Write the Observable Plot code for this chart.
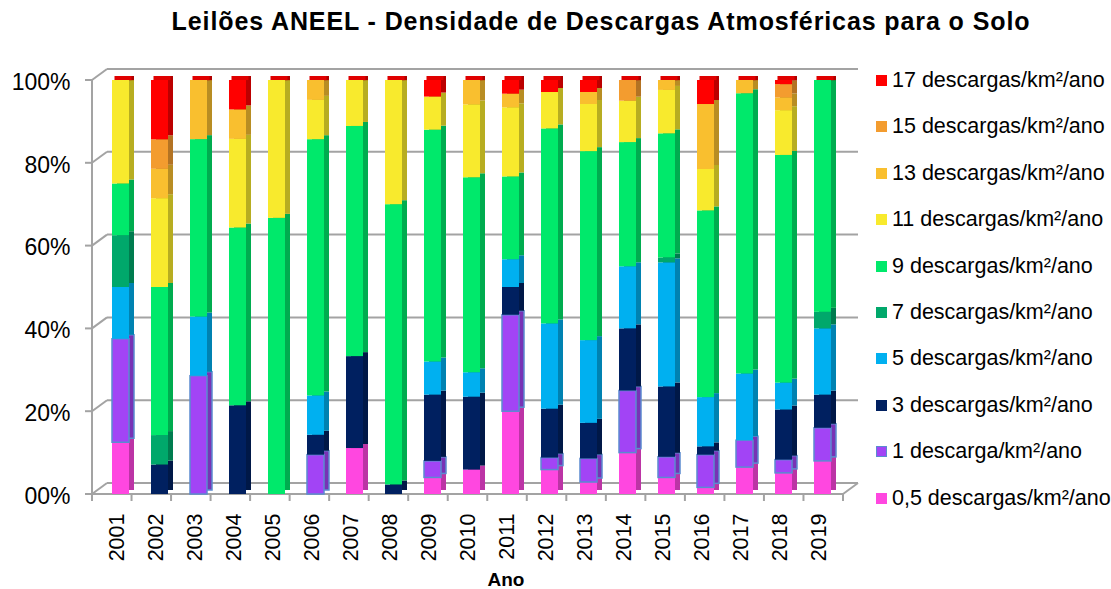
<!DOCTYPE html>
<html><head><meta charset="utf-8">
<script src="https://cdn.jsdelivr.net/npm/d3@7"></script>
<script src="https://cdn.jsdelivr.net/npm/@observablehq/plot@0.6"></script>
<style>
body{margin:0;background:#fff;font-family:"Liberation Sans",Arial,sans-serif;color:#000;}
#wrap{position:relative;width:1111px;height:589px;overflow:hidden;}
#title{position:absolute;top:7px;left:101px;width:1000px;text-align:center;font-weight:bold;font-size:25px;letter-spacing:0.9px;white-space:nowrap;}
#chart{position:absolute;top:45px;left:0;}
#legend{position:absolute;left:876px;top:0;}
.li{position:absolute;left:0;white-space:nowrap;font-size:21.5px;line-height:22px;height:22px;}
.sw{display:inline-block;width:11px;height:11px;margin-right:5px;vertical-align:1px;box-sizing:border-box;}
#xlabel{position:absolute;top:569px;left:466px;width:80px;text-align:center;font-weight:bold;font-size:19px;}
</style></head><body>
<div id="wrap">
<div id="title">Leilões ANEEL - Densidade de Descargas Atmosféricas para o Solo</div>
<div id="chart"></div>
<div id="legend"></div>
<div id="xlabel">Ano</div>
</div>
<script>
const years = ["2001","2002","2003","2004","2005","2006","2007","2008","2009","2010","2011","2012","2013","2014","2015","2016","2017","2018","2019"];
const seriesNames = ["0,5 descargas/km²/ano","1 descarga/km²/ano","3 descargas/km²/ano","5 descargas/km²/ano","7 descargas/km²/ano","9 descargas/km²/ano","11 descargas/km²/ano","13 descargas/km²/ano","15 descargas/km²/ano","17 descargas/km²/ano"];
const seriesColors = ["#FF47E0","#A244F5","#002060","#00B0F0","#00A86B","#00E96B","#F8EA2D","#F9BF2F","#F39C2F","#FF0000"];
const yTicks = [0,0.2,0.4,0.6,0.8,1];

// percentage values per year (2001..2019)
const v05 = [12.5,0,0,0,0,0,11.1,0,4,5.9,20,5.9,2.9,10,4,1.6,6.5,5.1,8];
const v1  = [25,0,28.6,0,0,9.5,0,0,4,0,23.3,2.9,5.7,15,5,7.9,6.5,3.2,8];
const v3  = [0,7.1,0,21.4,0,4.8,22.2,2.3,16,17.6,6.7,11.8,8.6,15,17,2,0,12.1,8];
const v5  = [12.5,0,14.3,0,0,9.5,0,0,8,5.9,6.7,20.6,20,15,30,11.9,16.1,6.5,16];
const v7  = [12.5,7.1,0,0,0,0,0,0,0,0,0,0,0,0,1.2,0,0,0,4];
const v9  = [12.5,35.7,42.9,42.9,66.7,61.9,55.6,67.7,56,47.1,20,47.1,45.7,30,30,45.1,67.7,55,56];
const v11 = [25,21.4,0,21.4,33.3,9.5,11.1,30,8,17.6,16.7,8.8,11.4,10,10.5,10,0,10.8,0];
const v13 = [0,7.1,14.3,7.1,0,4.8,0,0,0,5.9,3.3,0,2.9,0,2.4,15.7,3.2,3.1,0];
const v15 = [0,7.1,0,0,0,0,0,0,0,0,0,0,0,5,0,0,0,3.2,0];
const v17 = [0,14.3,0,7.1,0,0,0,0,4,0,3.3,2.9,2.9,0,0,5.8,0,1,0];
const seriesValues = [v05,v1,v3,v5,v7,v9,v11,v13,v15,v17];

const darkColors = seriesColors.map(c => d3.color(c).darker(0.85).formatHex());
const rows = [];
years.forEach((yr, i) => seriesValues.forEach((arr, k) => rows.push({year: yr, k, series: seriesNames[k], value: arr[i]})));

const FRONT_DX = 4, DEPTH_DX = 5, DEPTH_DY = -4;
const outline = "#5B8BD0";

function decor(index, scales, values, dim) {
  const y = scales.y;
  const L = dim.marginLeft, R = dim.width - dim.marginRight;
  const DX = 15, DY = -11;
  const g = d3.create("svg:g").attr("stroke", "#A3A3A3").attr("stroke-width", 2).attr("fill", "none");
  for (const t of yTicks) {
    const yy = y(t);
    g.append("line").attr("x1", L - 7).attr("x2", L).attr("y1", yy).attr("y2", yy);
    g.append("line").attr("x1", L).attr("y1", yy).attr("x2", L + DX).attr("y2", yy + DY);
    g.append("line").attr("x1", L + DX).attr("y1", yy + DY).attr("x2", R + DX).attr("y2", yy + DY);
  }
  g.append("line").attr("x1", L).attr("x2", L).attr("y1", y(1)).attr("y2", y(0) + 7);
  g.append("line").attr("x1", L).attr("x2", R).attr("y1", y(0)).attr("y2", y(0));
  g.append("line").attr("x1", R).attr("y1", y(0)).attr("x2", R + DX).attr("y2", y(0) + DY);
  const step = (R - L) / years.length;
  for (let i = 0; i <= years.length; i++) {
    const xx = L + i * step;
    g.append("line").attr("x1", xx).attr("x2", xx).attr("y1", y(0)).attr("y2", y(0) + 7);
  }
  return g.node();
}

const stackOpts = {offset: "normalize", x: "year", y: "value", z: "series", order: null};

const chart = Plot.plot({
  width: 1111,
  height: 544,
  marginLeft: 92,
  marginRight: 268,
  marginTop: 35,
  marginBottom: 95,
  x: {type: "band", domain: years, paddingInner: 0.56, paddingOuter: 0.28, label: null},
  y: {domain: [0, 1], label: null},
  color: {type: "identity"},
  style: {fontFamily: "Liberation Sans, Arial, sans-serif", color: "#000", background: "#fff"},
  marks: [
    decor,
    Plot.barY(rows, Plot.stackY({...stackOpts, fill: d => darkColors[d.k], stroke: d => d.k === 1 ? outline : "none", strokeWidth: 1.5, dx: FRONT_DX + DEPTH_DX, dy: DEPTH_DY})),
    Plot.barY(years, {x: d => d, y1: 0.99, y2: 1, fill: "#B00000", dx: FRONT_DX + DEPTH_DX, dy: DEPTH_DY}),
    Plot.barY(years, {x: d => d, y1: 0.99, y2: 1, fill: "#E00000", dx: FRONT_DX + DEPTH_DX / 2, dy: DEPTH_DY}),
    Plot.barY(rows, Plot.stackY({...stackOpts, fill: d => seriesColors[d.k], stroke: d => d.k === 1 ? outline : "none", strokeWidth: 1.5, dx: FRONT_DX})),
    Plot.axisY({ticks: yTicks, tickFormat: d => d === 0 ? "00%" : Math.round(d * 100) + "%", tickSize: 0, tickPadding: 22, fontSize: 23, dy: 2, label: null}),
    Plot.axisX({tickRotate: -90, tickSize: 0, tickPadding: 19, fontSize: 21.5, label: null})
  ]
});
document.getElementById("chart").appendChild(chart);

const legend = document.getElementById("legend");
const order = seriesNames.map((_, k) => k).reverse();
order.forEach((k, i) => {
  const div = document.createElement("div");
  div.className = "li";
  div.style.top = (69 + i * 46.4) + "px";
  const sw = document.createElement("span");
  sw.className = "sw";
  sw.style.background = seriesColors[k];
  if (k === 1) sw.style.border = "1.5px solid " + outline;
  div.appendChild(sw);
  div.appendChild(document.createTextNode(seriesNames[k]));
  legend.appendChild(div);
});
</script>
</body></html>
